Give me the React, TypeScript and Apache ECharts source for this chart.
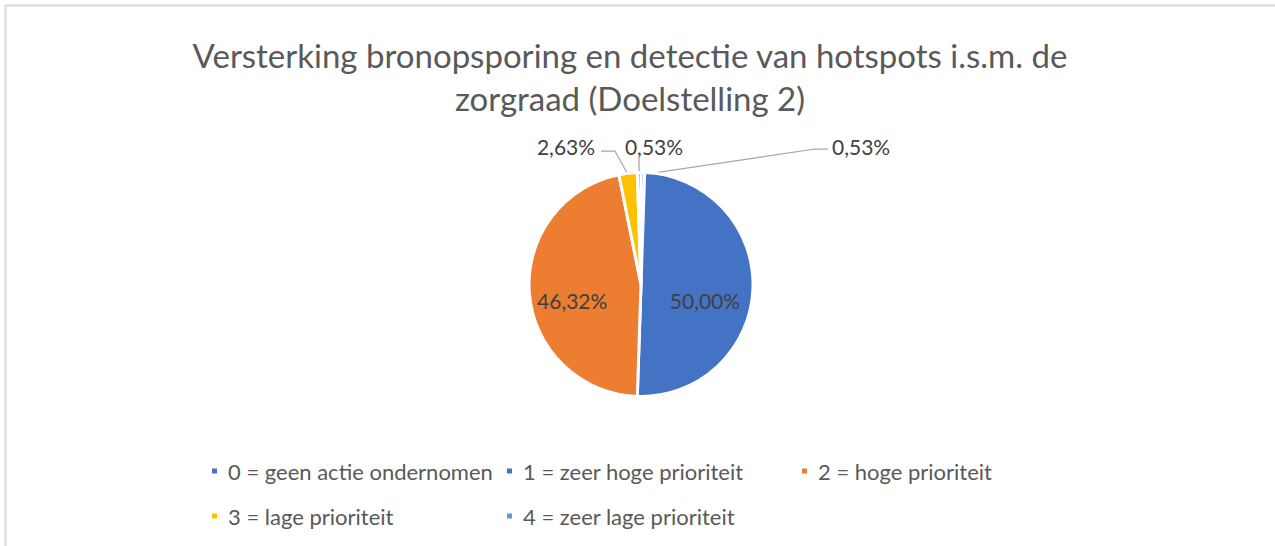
import React, { useEffect, useRef } from "react";
import * as echarts from "echarts";

const categories = [
  "0 = geen actie ondernomen",
  "1 = zeer hoge prioriteit",
  "2 = hoge prioriteit",
  "3 = lage prioriteit",
  "4 = zeer lage prioriteit",
];
// counts (percentages of 190 responses)
const counts = [1, 95, 88, 5, 1];
const colors = ["#4472C4", "#4472C4", "#ED7D31", "#FFC000", "#5B9BD5"];
const titleLines = [
  "Versterking bronopsporing en detectie van hotspots i.s.m. de",
  "zorgraad (Doelstelling 2)",
];

const FONT = "Lato, 'Open Sans', sans-serif";
const CX = 641;
const CY = 284.5;
const R = 112;

// layout of labels (pixel positions)
const insideOffsets: Record<number, [number, number]> = { 1: [5, 14], 2: [-10, 11] };
const outsideLayout: Record<number, { x: number; y: number; align: string; elbow: [number, number]; end: [number, number] }> = {
  0: { x: 832, y: 146, align: "left", elbow: [815, 149], end: [828, 149] },
  4: { x: 654, y: 146, align: "center", elbow: [639, 163], end: [639, 158] },
  3: { x: 566, y: 146, align: "center", elbow: [615, 151], end: [601, 151] },
};
const legendPos = [
  { left: 210, top: 460 },
  { left: 505, top: 460 },
  { left: 800, top: 460 },
  { left: 210, top: 505 },
  { left: 505, top: 505 },
];

function fmtPct(v: number, total: number) {
  return ((v / total) * 100).toFixed(2).replace(".", ",") + "%";
}

export default function App() {
  const ref = useRef<HTMLDivElement>(null);
  useEffect(() => {
    if (!ref.current) return;
    const chart = echarts.init(ref.current, undefined, { renderer: "svg" });
    const total = counts.reduce((a, b) => a + b, 0);
    const cum: number[] = [];
    counts.reduce((acc, v, i) => {
      cum[i] = acc;
      return acc + v;
    }, 0);
    const edgePoint = (i: number): [number, number] => {
      const frac = (cum[i] + counts[i] / 2) / total;
      const ang = (Math.PI / 2) - frac * Math.PI * 2;
      return [CX + (R - 2) * Math.cos(ang), CY - (R - 2) * Math.sin(ang)];
    };

    const data = categories.map((name, i) => {
      const inside = insideOffsets[i];
      return {
        name,
        value: counts[i],
        itemStyle: { color: colors[i] },
        label: inside
          ? { position: "inside", offset: inside }
          : { position: "outside" },
        labelLine: { show: !inside },
      };
    });

    chart.setOption({
      animation: false,
      backgroundColor: "#ffffff",
      title: {
        text: titleLines.join("\n"),
        left: 630,
        textAlign: "center",
        top: 33,
        padding: 0,
        textStyle: {
          fontFamily: FONT,
          fontSize: 33,
          fontWeight: "normal",
          color: "#595959",
          lineHeight: 43,
        },
      },
      legend: categories.map((name, i) => ({
        data: [name],
        left: legendPos[i].left,
        top: legendPos[i].top,
        padding: 0,
        icon: "rect",
        itemWidth: 7,
        itemHeight: 7,
        selectedMode: false,
        textStyle: {
          fontFamily: FONT,
          fontSize: 22,
          color: "#595959",
          lineHeight: 22,
          padding: [0, 0, 0, 5],
        },
      })),
      graphic: [
        {
          type: "rect",
          shape: { x: 5.5, y: 5.5, width: 1300, height: 600 },
          style: { fill: "none", stroke: "#D9D9D9", lineWidth: 2 },
          silent: true,
        },
      ],
      series: [
        {
          type: "pie",
          center: [CX, CY],
          radius: R,
          startAngle: 90,
          clockwise: true,
          avoidLabelOverlap: false,
          itemStyle: { borderColor: "#ffffff", borderWidth: 3 },
          label: {
            show: true,
            fontFamily: FONT,
            fontSize: 21,
            color: "#404040",
            formatter: (p: any) => fmtPct(p.value, total),
          },
          labelLine: {
            show: true,
            length: 10,
            length2: 10,
            lineStyle: { color: "#A6A6A6", width: 1.25 },
          },
          labelLayout: (params: any) => {
            const o = outsideLayout[params.dataIndex];
            if (!o) return {};
            return {
              x: o.x,
              y: o.y,
              align: o.align,
              verticalAlign: "middle",
              labelLinePoints: [edgePoint(params.dataIndex), o.elbow, o.end],
            };
          },
          data,
        },
      ],
    });
    return () => chart.dispose();
  }, []);
  return (
    <div
      ref={ref}
      style={{ position: "fixed", left: 0, top: 0, width: 1275, height: 546 }}
    />
  );
}
